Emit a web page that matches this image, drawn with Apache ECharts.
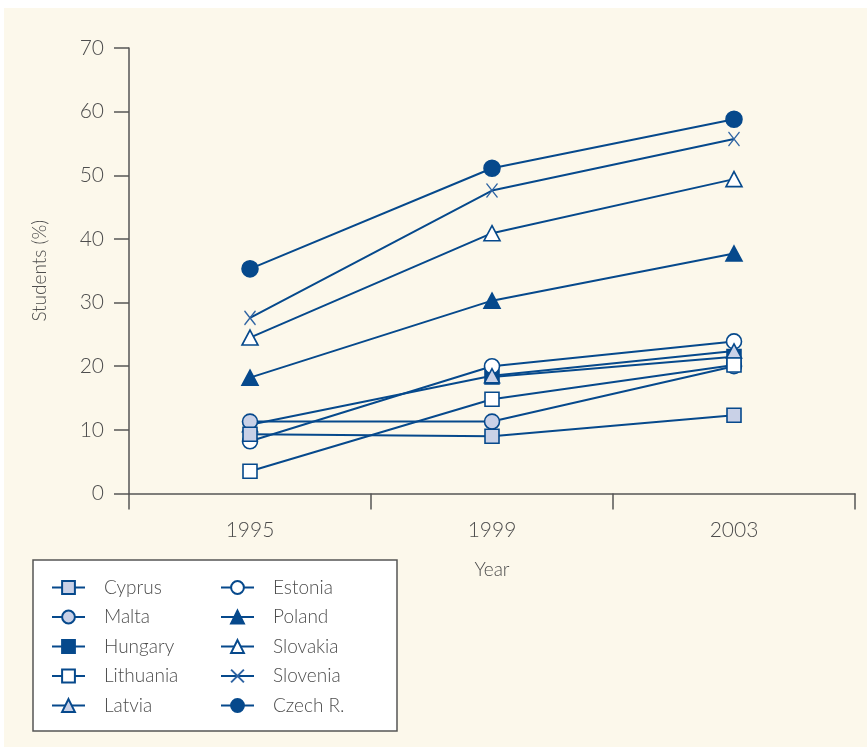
<!DOCTYPE html>
<html><head><meta charset="utf-8">
<script src="https://cdn.jsdelivr.net/npm/echarts@6/dist/echarts.min.js"></script>
<style>html,body{margin:0;padding:0;background:#fff}#c{width:867px;height:747px}</style>
</head><body><div id="c"></div>
<script>
const years = ['1995', '1999', '2003'];
const yTicks = [0, 10, 20, 30, 40, 50, 60, 70];
const cyprus = [9.3, 9.0, 12.3];
const malta = [11.3, 11.3, 20.0];
const hungary = [null, 18.3, 21.5];
const lithuania = [3.5, 14.8, 20.2];
const latvia = [10.8, 18.5, 22.4];
const estonia = [8.2, 20.0, 23.9];
const poland = [18.2, 30.3, 37.7];
const slovakia = [24.5, 40.9, 49.4];
const slovenia = [27.6, 47.6, 55.7];
const czech = [35.3, 51.1, 58.8];
const legendCol1 = ['Cyprus', 'Malta', 'Hungary', 'Lithuania', 'Latvia'];
const legendCol2 = ['Estonia', 'Poland', 'Slovakia', 'Slovenia', 'Czech R.'];

const BLUE = '#06498c';
const LIGHT = '#c9d1e7';
const GREY = '#4d4d4d';
const FONT = 'Lato';
const XPATH = 'path://M0,0L10,13M10,0L0,13';

function mk(name, data, symbol, fill, z, size, extra) {
  return Object.assign({
    name: name, type: 'line', data: data, z: z,
    symbol: symbol, symbolSize: size, showSymbol: true,
    lineStyle: { color: BLUE, width: 2 },
    itemStyle: { color: fill, borderColor: BLUE, borderWidth: 1.6 },
    emphasis: { disabled: true },
    animation: false
  }, extra || {});
}

const legendBase = {
  orient: 'vertical', top: 578, padding: 0,
  itemWidth: 33, itemHeight: 16, itemGap: 10.5,
  textStyle: { fontSize: 19, color: GREY, fontFamily: FONT, fontWeight: 300, padding: [0, 0, 0, 14] },
  selectedMode: false
};

const chart = echarts.init(document.getElementById('c'), null, { renderer: 'canvas' });
chart.setOption({
  backgroundColor: '#fcf8eb',
  animation: false,
  textStyle: { fontFamily: FONT },
  grid: { left: 129, top: 48, right: 12, bottom: 253.5, containLabel: false },
  xAxis: {
    type: 'category', data: years, boundaryGap: true,
    name: 'Year', nameLocation: 'middle', nameGap: 67,
    nameTextStyle: { fontSize: 19, color: GREY, fontFamily: FONT, fontWeight: 300 },
    axisLine: { lineStyle: { color: '#555', width: 1.5 } },
    axisTick: { show: true, length: 16, lineStyle: { color: '#555', width: 1.5 } },
    axisLabel: { fontSize: 21, color: GREY, margin: 26, fontFamily: FONT, fontWeight: 300 },
    splitLine: { show: false }
  },
  yAxis: {
    type: 'value', min: yTicks[0], max: yTicks[yTicks.length - 1], interval: 10,
    name: 'Students (%)', nameLocation: 'middle', nameGap: 80,
    nameTextStyle: { fontSize: 19, color: GREY, fontFamily: FONT, fontWeight: 300 },
    axisLine: { show: true, lineStyle: { color: '#555', width: 1.5 } },
    axisTick: { show: true, length: 15, lineStyle: { color: '#555', width: 1.5 } },
    axisLabel: { fontSize: 21, color: GREY, margin: 25, fontFamily: FONT, fontWeight: 300 },
    splitLine: { show: false }
  },
  graphic: [
    { type: 'rect', shape: { x: 0, y: 0, width: 867, height: 8 }, style: { fill: '#ffffff' }, silent: true },
    { type: 'rect', shape: { x: 0, y: 0, width: 4, height: 747 }, style: { fill: '#ffffff' }, silent: true },
    { type: 'rect', shape: { x: 33, y: 560, width: 364, height: 171 },
      style: { fill: '#ffffff', stroke: '#555', lineWidth: 1.5 }, silent: true }
  ],
  legend: [
    Object.assign({ data: legendCol1, left: 51 }, legendBase),
    Object.assign({ data: legendCol2, left: 220 }, legendBase)
  ],
  series: [
    mk('Cyprus', cyprus, 'rect', LIGHT, 6, 14),
    mk('Malta', malta, 'circle', LIGHT, 5, 15),
    mk('Hungary', hungary, 'rect', BLUE, 2, 14),
    mk('Lithuania', lithuania, 'rect', '#ffffff', 7, 14),
    mk('Latvia', latvia, 'triangle', LIGHT, 4, [15, 14]),
    mk('Estonia', estonia, 'circle', '#ffffff', 3, 15),
    mk('Poland', poland, 'triangle', BLUE, 8, [16, 15]),
    mk('Slovakia', slovakia, 'triangle', '#ffffff', 8, [16, 15]),
    mk('Slovenia', slovenia, XPATH, 'rgba(0,0,0,0)', 8, [11, 14],
      { itemStyle: { color: 'rgba(0,0,0,0)', borderColor: '#2f64a3', borderWidth: 1.4 } }),
    mk('Czech R.', czech, 'circle', BLUE, 8, 16)
  ]
});
</script></body></html>
